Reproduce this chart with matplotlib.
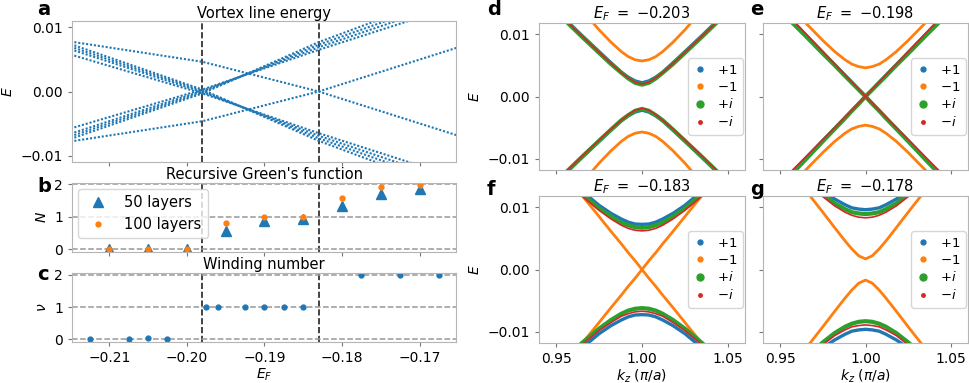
import matplotlib
matplotlib.use('Agg')
import matplotlib.pyplot as plt
from matplotlib.lines import Line2D
import numpy as np

# ---- panel a: vortex line energy, read at a few E_F nodes ----
ef_nodes = [-0.2145, -0.198, -0.183, -0.165]
vortex_rising = [
    [-0.0056, 0.0003, 0.0065, 0.0135],
    [-0.0064, 0.0001, 0.0069, 0.0143],
    [-0.0068, -0.0001, 0.0073, 0.0150],
    [-0.0072, -0.0003, 0.0077, 0.0158],
]
vortex_single = [0.0077, 0.00464, 0.0, -0.0069]
transitions = [-0.198, -0.183]

# ---- panel b: recursive Green's function ----
ef_green = [-0.21, -0.205, -0.20, -0.195, -0.19, -0.185, -0.18, -0.175, -0.17]
n_50 = [0.0, 0.0, 0.0, 0.56, 0.87, 0.94, 1.34, 1.71, 1.86]
n_100 = [0.0, 0.0, 0.0, 0.80, 0.98, 1.00, 1.57, 1.93, 1.98]

# ---- panel c: winding number ----
ef_wind = [-0.2125, -0.2075, -0.205, -0.2025, -0.1975, -0.196, -0.1925,
           -0.19, -0.1875, -0.185, -0.1775, -0.1725, -0.1675]
winding = [0, 0, 0.05, 0, 1, 1, 1, 1, 1, 1, 2, 2, 2]

# ---- panels d-g: upper bands E(k) read at k = 1 +/- dk ----
dk = [0.0, 0.004, 0.008, 0.012, 0.018, 0.025, 0.035, 0.05]
ef_titles = ['0.203', '0.198', '0.183', '0.178']
band_p1 = [[0.0022, 0.0025, 0.0031, 0.0039, 0.0054, 0.0072, 0.0098, 0.0138],
           [0.0, 0.0011, 0.0023, 0.0034, 0.0051, 0.0071, 0.0099, 0.0142],
           [0.00725, 0.0073, 0.0076, 0.0081, 0.0090, 0.0103, 0.0126, 0.0163],
           [0.0096, 0.0097, 0.0099, 0.0104, 0.0113, 0.0126, 0.0150, 0.0191]]
band_m1 = [[0.0057, 0.0059, 0.0064, 0.0072, 0.0087, 0.0107, 0.0139, 0.0190],
           [0.0046, 0.0048, 0.0052, 0.0059, 0.0072, 0.0090, 0.0118, 0.0162],
           [0.0, 0.0014, 0.0027, 0.0041, 0.0061, 0.0085, 0.0119, 0.0170],
           [0.0017, 0.0022, 0.0033, 0.0046, 0.0067, 0.0092, 0.0127, 0.0181]]
band_pi = [[0.0019, 0.0022, 0.0029, 0.0038, 0.0052, 0.0070, 0.0096, 0.0136],
           [0.0, 0.0011, 0.0022, 0.0033, 0.0050, 0.0069, 0.0097, 0.0138],
           [0.0067, 0.0068, 0.0071, 0.0075, 0.0085, 0.0098, 0.0121, 0.0159],
           [0.0089, 0.0090, 0.0092, 0.0097, 0.0106, 0.0121, 0.0145, 0.0186]]
band_mi = [[0.0020, 0.0023, 0.0030, 0.0038, 0.0053, 0.0071, 0.0097, 0.0137],
           [0.0, 0.0012, 0.0023, 0.0035, 0.0052, 0.0072, 0.0101, 0.0144],
           [0.0062, 0.0063, 0.0066, 0.0071, 0.0081, 0.0095, 0.0118, 0.0157],
           [0.0083, 0.0084, 0.0087, 0.0092, 0.0102, 0.0117, 0.0141, 0.0183]]

BLUE, ORANGE, GREEN, RED = '#1f77b4', '#ff7f0e', '#2ca02c', '#d62728'
SPINE = '#b5b5b5'

W, H = 969, 383
fig = plt.figure(figsize=(W / 100, H / 100), dpi=100)


def rect(l, t, r, b):
    return [l / W, 1 - b / H, (r - l) / W, (b - t) / H]


def style(ax):
    for s in ax.spines.values():
        s.set_color(SPINE)
    ax.tick_params(labelsize=10, color='#777777', length=3)


ax_a = fig.add_axes(rect(72, 21, 456, 162))
ax_b = fig.add_axes(rect(72, 183, 456, 252), sharex=ax_a)
ax_c = fig.add_axes(rect(72, 273, 456, 342), sharex=ax_a)

# a
dots = dict(color=BLUE, lw=1.5, ls=(0, (1.0, 0.9)))
for line in vortex_rising:
    for sign in (1, -1):
        ax_a.plot(ef_nodes, sign * np.array(line), **dots)
for sign in (1, -1):
    ax_a.plot(ef_nodes, sign * np.array(vortex_single), **dots)
ax_a.set_ylim(-0.011, 0.011)
ax_a.set_yticks([-0.01, 0.0, 0.01])
ax_a.set_yticklabels(['\u22120.01', '0.00', '0.01'])
ax_a.set_ylabel('$E$', fontsize=10)
ax_a.set_title('Vortex line energy', fontsize=10.5, pad=2)

# b
ax_b.plot(ef_green, n_50, '^', color=BLUE, ms=7, label='50 layers')
ax_b.plot(ef_green, n_100, 'o', color=ORANGE, ms=3.5, label='100 layers')
ax_b.set_ylim(-0.083, 2.04)
ax_b.set_yticks([0, 1, 2])
ax_b.set_ylabel('$N$', fontsize=10)
ax_b.set_title("Recursive Green's function", fontsize=10.5, pad=3)
ax_b.legend(loc='upper left', fontsize=10.5, borderaxespad=0.4)

# c
ax_c.plot(ef_wind, winding, 'o', color=BLUE, ms=3.5)
ax_c.set_ylim(-0.085, 2.06)
ax_c.set_yticks([0, 1, 2])
ax_c.set_ylabel(r'$\nu$', fontsize=10)
ax_c.set_xlabel('$E_F$', fontsize=10, labelpad=1)
ax_c.set_title('Winding number', fontsize=10.5, pad=3)

for ax in (ax_b, ax_c):
    ax.set_axisbelow(True)
    ax.yaxis.grid(True, ls='--', color='#999999', lw=1.1)
for ax in (ax_a, ax_b, ax_c):
    for x in transitions:
        ax.axvline(x, color='#222222', ls='--', lw=1.2, zorder=0.5)
    style(ax)
ax_a.set_xlim(-0.2148, -0.1653)
ax_a.set_xticks([-0.21, -0.20, -0.19, -0.18, -0.17])
ax_c.set_xticklabels(['\u22120.21', '\u22120.20', '\u22120.19', '\u22120.18', '\u22120.17'])
ax_a.tick_params(labelbottom=False)
ax_b.tick_params(labelbottom=False)

# d-g
rects = [rect(539, 23, 745, 170), rect(763, 23, 968, 170),
         rect(539, 196, 745, 343), rect(763, 196, 968, 343)]
axes = []
for i, r in enumerate(rects):
    kw = {}
    if i > 0:
        kw = dict(sharex=axes[0], sharey=axes[0])
    axes.append(fig.add_axes(r, **kw))

dk_arr = np.array(dk)
k_full = np.concatenate([1 - dk_arr[::-1], 1 + dk_arr[1:]])


def full(vals):
    v = np.array(vals)
    return np.concatenate([v[::-1], v[1:]])


for i, ax in enumerate(axes):
    # lower branches: +1 and -1 map to themselves, +i and -i swap
    bands = [(band_p1[i], band_p1[i], BLUE, 2.4),
             (band_m1[i], band_m1[i], ORANGE, 2.0),
             (band_pi[i], band_mi[i], GREEN, 3.0),
             (band_mi[i], band_pi[i], RED, 1.2)]
    for up, low, c, lw in bands:
        ax.plot(k_full, full(up), color=c, lw=lw)
        ax.plot(k_full, -full(low), color=c, lw=lw)
    ax.set_title(r'$E_F\ =\ {-}' + ef_titles[i] + '$', fontsize=10.5, pad=3)
    handles = [Line2D([0], [0], marker='o', ls='none', color=BLUE, ms=3.5),
               Line2D([0], [0], marker='o', ls='none', color=ORANGE, ms=3.5),
               Line2D([0], [0], marker='o', ls='none', color=GREEN, ms=5),
               Line2D([0], [0], marker='o', ls='none', color=RED, ms=2.5)]
    ax.legend(handles, ['$+1$', '$-1$', '$+i$', '$-i$'], loc='center right',
              fontsize=9.5, handlelength=1.0, handletextpad=0.8,
              labelspacing=0.3, borderaxespad=0.15)
    style(ax)

axes[0].set_xlim(0.94, 1.06)
axes[0].set_ylim(-0.0118, 0.0118)
axes[0].set_xticks([0.95, 1.00, 1.05])
axes[0].set_yticks([-0.01, 0.0, 0.01])
for i in (0, 2):
    axes[i].set_yticklabels(['\u22120.01', '0.00', '0.01'])
    axes[i].set_ylabel('$E$', fontsize=10)
for i in (1, 3):
    axes[i].tick_params(labelleft=False)
for i in (0, 1):
    axes[i].tick_params(labelbottom=False)
for i in (2, 3):
    axes[i].set_xticklabels(['0.95', '1.00', '1.05'])
    axes[i].set_xlabel(r'$k_z$ $(\pi/a)$', fontsize=10, labelpad=1)

# panel letters
letters = [('a', 37, 15), ('b', 37, 192), ('c', 37, 280),
           ('d', 487, 15), ('e', 750, 15), ('f', 487, 195), ('g', 750, 195)]
for s, x, y in letters:
    fig.text(x / W, 1 - y / H, s, fontsize=14, fontweight='bold', va='baseline')

fig.savefig('out.png', dpi=100)
